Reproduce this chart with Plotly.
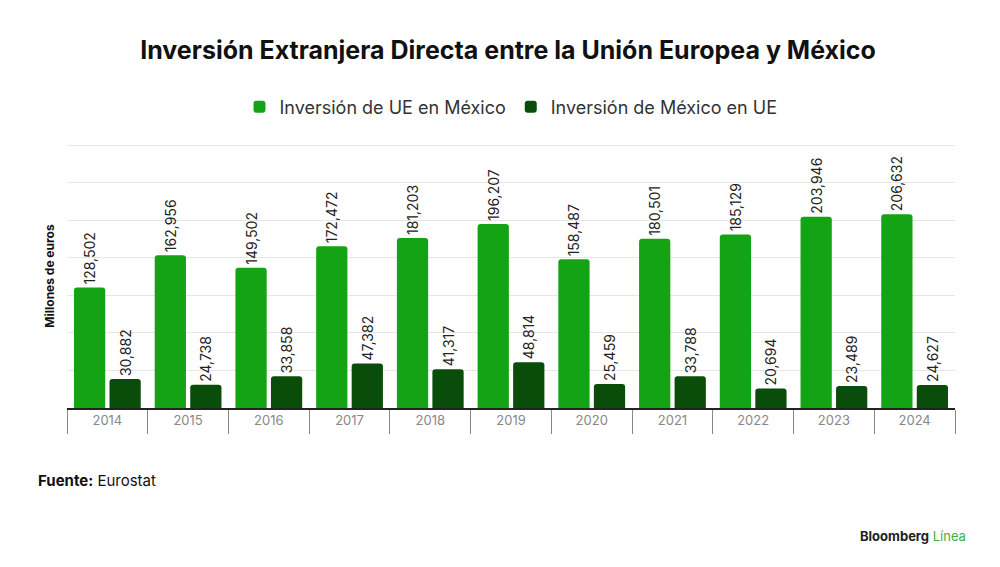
import plotly.graph_objects as go

years = ["2014", "2015", "2016", "2017", "2018", "2019", "2020", "2021", "2022", "2023", "2024"]
ue_en_mexico = [128502, 162956, 149502, 172472, 181203, 196207, 158487, 180501, 185129, 203946, 206632]
mexico_en_ue = [30882, 24738, 33858, 47382, 41317, 48814, 25459, 33788, 20694, 23489, 24627]

light = "#14a314"
dark = "#0a4d0a"

fig = go.Figure()
for name, vals, col in [("Inversión de UE en México", ue_en_mexico, light),
                        ("Inversión de México en UE", mexico_en_ue, dark)]:
    fig.add_trace(go.Bar(
        x=years, y=vals, name=name, marker=dict(color=col, line_width=0),
        text=[f"{v:,}" for v in vals], textposition="outside", textangle=-90,
        constraintext="none",
        textfont=dict(size=14, color="#222"), cliponaxis=False,
    ))

fig.update_layout(
    width=1000, height=567,
    plot_bgcolor="white", paper_bgcolor="white",
    font=dict(family="Inter, Roboto, sans-serif", color="#222"),
    margin=dict(l=59, r=53, t=136, b=167),
    barmode="group", bargap=0.12, bargroupgap=0.12, barcornerradius=3,
    title=dict(text="<b>Inversión Extranjera Directa entre la Unión Europea y México</b>",
               x=0.5, xanchor="center", y=0.925, yanchor="middle",
               font=dict(size=25, color="#111")),
    legend=dict(orientation="h", x=0.5, xanchor="center", y=1.14, yanchor="middle",
                font=dict(size=18, color="#333"), itemwidth=30, traceorder="normal"),
    showlegend=True,
)
fig.update_yaxes(range=[0, 281500], dtick=40000, showticklabels=False,
                 gridcolor="#e6e6e6", zeroline=False,
                 title=dict(text="<b>Millones de euros</b>", font=dict(size=12, color="#111"), standoff=8))
fig.update_xaxes(showline=True, linecolor="#222", linewidth=1.5,
                 ticks="outside", tickson="boundaries", ticklen=24, tickcolor="#888",
                 tickfont=dict(size=13, color="#888"))

fig.add_annotation(text="<b>Fuente:</b> Eurostat", xref="paper", yref="paper", x=-0.035, y=-0.273,
                   xanchor="left", yanchor="middle", showarrow=False, font=dict(size=15, color="#111"))
fig.add_annotation(text="<b>Bloomberg</b> <span style='color:#3cb043'>Línea</span>", xref="paper", yref="paper",
                   x=1.015, y=-0.485, xanchor="right", yanchor="middle", showarrow=False,
                   font=dict(size=13, color="#222"))

fig.write_html("out.html")
